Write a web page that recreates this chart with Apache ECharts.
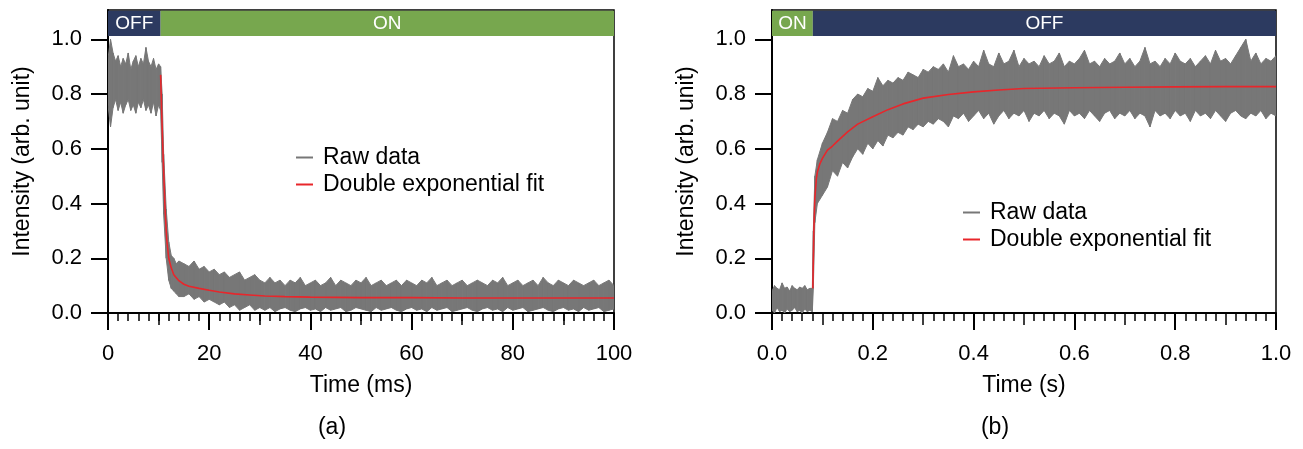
<!DOCTYPE html>
<html>
<head>
<meta charset="utf-8">
<script src="https://cdn.jsdelivr.net/npm/echarts@6/dist/echarts.min.js"></script>
<style>
html,body{margin:0;padding:0;background:#fff;}
#chart{width:1303px;height:449px;}
</style>
</head>
<body>
<div id="chart"></div>
<script>
// ---------------- DATA ----------------
// Panel (a): time in ms
const timeA = [0,0.5,1,1.5,2,2.5,3,3.5,4,4.5,5,5.5,6,6.5,7,7.5,8,8.5,9,9.5,10,
  10.4,10.7,11,11.5,12,12.5,13,13.5,14,
  15,16,17,18,19,20,21,22,23,24,25,26,27,28,29,30,31,32,33,34,35,36,37,38,39,40,
  41,42,43,44,45,46,47,48,49,50,51,52,53,54,55,56,57,58,59,60,61,62,63,64,65,
  66,67,68,69,70,71,72,73,74,75,76,77,78,79,80,81,82,83,84,85,86,87,88,89,90,
  91,92,93,94,95,96,97,98,99,100];
// raw data: upper and lower edge of the noise band
const rawUpperA = [0.93,1.00,0.95,0.92,0.94,0.90,0.93,0.91,0.95,0.89,0.92,0.94,0.90,0.93,0.91,0.97,0.92,0.90,0.93,0.89,0.91,
  0.90,0.80,0.58,0.38,0.26,0.21,0.20,0.18,0.19,
  0.18,0.17,0.19,0.16,0.17,0.15,0.16,0.14,0.15,0.13,
  0.14,0.15,0.12,0.13,0.14,0.12,0.11,0.13,0.11,0.12,
  0.10,0.12,0.11,0.13,0.10,0.11,0.12,0.10,0.11,0.13,
  0.10,0.12,0.11,0.10,0.12,0.11,0.13,0.10,0.11,0.12,
  0.10,0.11,0.12,0.10,0.12,0.11,0.10,0.12,0.11,0.13,
  0.10,0.11,0.12,0.10,0.11,0.12,0.10,0.11,0.12,0.11,
  0.10,0.12,0.11,0.13,0.10,0.11,0.12,0.10,0.11,0.12,
  0.10,0.13,0.11,0.10,0.12,0.11,0.10,0.12,0.11,0.10,
  0.11,0.12,0.10,0.11,0.12,0.10];
const rawLowerA = [0.76,0.68,0.75,0.78,0.74,0.77,0.73,0.76,0.78,0.74,0.76,0.73,0.77,0.75,0.78,0.74,0.76,0.73,0.77,0.72,0.76,
  0.74,0.55,0.36,0.20,0.12,0.09,0.08,0.07,0.06,
  0.06,0.07,0.05,0.06,0.04,0.05,0.04,0.03,0.04,0.02,
  0.03,0.01,0.02,0.03,0.01,0.02,0.01,0.02,0.005,0.015,
  0.02,0.01,0.005,0.015,0.02,0.01,0.015,0.005,0.02,0.01,
  0.015,0.02,0.005,0.01,0.02,0.015,0.01,0.005,0.02,0.01,
  0.015,0.02,0.01,0.005,0.015,0.02,0.01,0.015,0.005,0.02,
  0.01,0.015,0.02,0.005,0.01,0.015,0.02,0.01,0.005,0.015,
  0.02,0.01,0.015,0.005,0.02,0.01,0.015,0.02,0.005,0.01,
  0.015,0.02,0.01,0.005,0.015,0.02,0.01,0.015,0.005,0.02,
  0.01,0.015,0.02,0.005,0.01,0.015];
const fitTimeA = [10.4,10.6,10.8,11,11.3,11.6,12,12.5,13,14,15,16,18,20,22,25,28,31,35,40,50,60,70,80,90,100];
const fitA = [0.87,0.74,0.62,0.52,0.37,0.27,0.20,0.165,0.14,0.118,0.105,0.098,0.09,0.083,0.077,0.07,0.066,0.062,0.06,0.058,0.056,0.056,0.055,0.055,0.055,0.055];
const stateA = [['OFF', 0, 10.4], ['ON', 10.4, 100]];

// Panel (b): time in s
const timeB = [0,0.005,0.01,0.015,0.02,0.025,0.03,0.035,0.04,0.045,0.05,0.055,0.06,0.065,0.07,0.075,0.08,
  0.082,0.085,
  0.09,0.10,0.11,0.12,0.13,0.14,0.15,0.16,0.17,0.18,
  0.19,0.20,0.21,0.22,0.23,0.24,0.25,0.26,0.27,0.28,
  0.29,0.30,0.31,0.32,0.33,0.34,0.35,0.36,0.37,0.38,
  0.39,0.40,0.41,0.42,0.43,0.44,0.45,0.46,0.47,0.48,
  0.49,0.50,0.51,0.52,0.53,0.54,0.55,0.56,0.57,0.58,
  0.59,0.60,0.61,0.62,0.63,0.64,0.65,0.66,0.67,0.68,
  0.69,0.70,0.71,0.72,0.73,0.74,0.75,0.76,0.77,0.78,
  0.79,0.80,0.81,0.82,0.83,0.84,0.85,0.86,0.87,0.88,
  0.89,0.90,0.91,0.92,0.93,0.94,0.95,0.96,0.97,0.98,
  0.99,1.00];
const rawUpperB = [0.08,0.10,0.09,0.085,0.11,0.09,0.095,0.08,0.10,0.09,0.085,0.095,0.09,0.10,0.085,0.09,0.09,
  0.30,0.50,
  0.56,0.62,0.66,0.71,0.70,0.74,0.73,0.78,0.80,0.79,
  0.82,0.81,0.86,0.83,0.85,0.84,0.86,0.85,0.88,0.87,
  0.86,0.89,0.88,0.90,0.89,0.91,0.88,0.94,0.90,0.91,
  0.89,0.92,0.90,0.96,0.91,0.90,0.95,0.91,0.92,0.96,
  0.90,0.93,0.91,0.92,0.90,0.94,0.91,0.92,0.95,0.90,
  0.92,0.91,0.93,0.96,0.91,0.92,0.90,0.93,0.91,0.92,
  0.95,0.91,0.93,0.90,0.92,0.97,0.91,0.92,0.90,0.93,
  0.91,0.95,0.92,0.91,0.93,0.90,0.92,0.94,0.91,0.96,
  0.92,0.93,0.91,0.94,0.97,1.00,0.92,0.95,0.91,0.93,
  0.92,0.94];
const rawLowerB = [0.01,0.0,0.02,0.005,0.01,0.0,0.015,0.005,0.01,0.02,0.005,0.01,0.0,0.015,0.005,0.01,0.005,
  0.09,0.33,
  0.40,0.43,0.46,0.52,0.50,0.55,0.53,0.57,0.60,0.58,
  0.62,0.60,0.63,0.61,0.65,0.64,0.66,0.65,0.68,0.67,
  0.69,0.68,0.70,0.69,0.71,0.70,0.68,0.72,0.71,0.73,
  0.70,0.72,0.74,0.71,0.73,0.69,0.72,0.74,0.71,0.73,
  0.72,0.74,0.70,0.73,0.72,0.74,0.71,0.73,0.72,0.69,
  0.74,0.72,0.73,0.71,0.74,0.72,0.70,0.73,0.74,0.71,
  0.73,0.72,0.74,0.71,0.73,0.72,0.68,0.74,0.72,0.73,
  0.71,0.74,0.72,0.73,0.70,0.74,0.72,0.73,0.71,0.74,
  0.72,0.70,0.73,0.74,0.72,0.71,0.73,0.72,0.74,0.71,
  0.73,0.72];
const fitTimeB = [0.081,0.083,0.085,0.088,0.09,0.095,0.10,0.11,0.12,0.13,0.15,0.17,0.20,0.23,0.26,0.30,0.35,0.40,0.45,0.50,0.60,0.70,0.80,0.90,1.00];
const fitB = [0.09,0.30,0.42,0.49,0.515,0.545,0.565,0.595,0.61,0.628,0.662,0.69,0.717,0.743,0.764,0.785,0.798,0.808,0.815,0.82,0.823,0.825,0.826,0.827,0.827];
const stateB = [['ON', 0, 0.081], ['OFF', 0.081, 1.0]];

const yTicks = [0, 0.2, 0.4, 0.6, 0.8, 1.0];
const midTicksA = [10, 30, 50, 70, 90];
const midTicksB = [0.1, 0.3, 0.5, 0.7, 0.9];
const seriesNames = ['Raw data', 'Double exponential fit'];

// ---------------- STYLE ----------------
const FONT = '"Liberation Sans", Arial, Helvetica, sans-serif';
const GRAY = '#777777';
const RED = '#e8262b';
const STATE_COLOR = { ON: '#77a74e', OFF: '#2c3a60' };
const Y_MAX = 1.107, BANNER_LO = 1.012, BANNER_HI = 1.104;

const grids = [
  { left: 108, right: 689, top: 10, bottom: 136 },
  { left: 772, right: 27, top: 10, bottom: 136 }
];

function pairs(t, v) { return t.map((x, i) => [x, v[i]]); }
function triples(t, lo, hi) { return t.map((x, i) => [x, lo[i], hi[i]]); }

function mainX(gi, max, interval, fmt, name) {
  return {
    type: 'value', gridIndex: gi, min: 0, max: max, interval: interval,
    name: name, nameLocation: 'middle', nameGap: 61,
    nameTextStyle: { fontSize: 23, color: '#000', fontFamily: FONT },
    axisLine: { show: true, lineStyle: { color: '#000', width: 2 } },
    axisTick: { show: true, length: 17, lineStyle: { color: '#000', width: 2 } },
    minorTick: { show: true, splitNumber: 10, length: 8, lineStyle: { color: '#000', width: 1.5 } },
    axisLabel: { fontSize: 22, color: '#000', fontFamily: FONT, margin: 30, formatter: fmt },
    splitLine: { show: false }, minorSplitLine: { show: false }
  };
}
function midX(gi, max, ticks) {
  return {
    type: 'value', gridIndex: gi, min: 0, max: max, position: 'bottom',
    axisLine: { show: false },
    axisTick: { show: true, length: 12, customValues: ticks, lineStyle: { color: '#000', width: 1.5 } },
    axisLabel: { show: false, customValues: ticks },
    splitLine: { show: false }
  };
}
function mainY(gi) {
  return {
    type: 'value', gridIndex: gi, min: 0, max: Y_MAX,
    name: 'Intensity (arb. unit)', nameLocation: 'middle', nameGap: 74,
    nameTextStyle: { fontSize: 23, color: '#000', fontFamily: FONT },
    axisLine: { show: true, lineStyle: { color: '#000', width: 2 } },
    axisTick: { show: true, length: 17, customValues: yTicks, lineStyle: { color: '#000', width: 2 } },
    axisLabel: { fontSize: 22, color: '#000', fontFamily: FONT, margin: 26, customValues: yTicks,
      formatter: v => v.toFixed(1) },
    splitLine: { show: false }
  };
}
function banner(states) {
  return {
    silent: true,
    data: states.map(s => [
      { xAxis: s[1], yAxis: BANNER_LO, itemStyle: { color: STATE_COLOR[s[0]], opacity: 1 },
        label: { show: true, position: 'inside', formatter: s[0], color: '#fff', fontSize: 19, fontFamily: FONT } },
      { xAxis: s[2], yAxis: BANNER_HI }
    ])
  };
}
// Band of the raw trace: each item is [t, lower, upper]; a quad joins item i to item i+1.
function renderBand(params, api) {
  const i = params.dataIndex;
  const n = params.dataInsideLength;
  if (i >= n - 1) return null;
  const t0 = api.value(0, i), l0 = api.value(1, i), u0 = api.value(2, i);
  const t1 = api.value(0, i + 1), l1 = api.value(1, i + 1), u1 = api.value(2, i + 1);
  const pts = [api.coord([t0, l0]), api.coord([t1, l1]), api.coord([t1, u1]), api.coord([t0, u0])];
  return {
    type: 'polygon',
    shape: { points: pts },
    style: { fill: GRAY, stroke: GRAY, lineWidth: 1 }
  };
}
function panelSeries(gi, xi, t, up, lo, ft, fv, states) {
  return [
    { name: seriesNames[0], type: 'custom', xAxisIndex: xi, yAxisIndex: gi,
      data: triples(t, lo, up), encode: { x: 0, y: [1, 2] },
      renderItem: renderBand, itemStyle: { color: GRAY }, clip: true, silent: true, z: 2 },
    { name: seriesNames[1], type: 'line', xAxisIndex: xi, yAxisIndex: gi,
      data: pairs(ft, fv), showSymbol: false, symbol: 'none', color: RED,
      lineStyle: { color: RED, width: 1.6 }, silent: true, z: 3,
      markArea: banner(states) }
  ];
}
function legendAt(left, top) {
  return {
    data: seriesNames, orient: 'vertical', left: left, top: top,
    icon: 'rect', itemWidth: 17, itemHeight: 2, itemGap: 0,
    selectedMode: false,
    textStyle: { fontSize: 23, lineHeight: 27, color: '#000', fontFamily: FONT, padding: [0, 0, 0, 5] }
  };
}

const option = {
  animation: false,
  textStyle: { fontFamily: FONT },
  grid: grids.map(g => Object.assign({ show: true, borderColor: '#000', borderWidth: 1.5, backgroundColor: 'transparent' }, g)),
  xAxis: [
    mainX(0, 100, 20, v => String(v), 'Time (ms)'),
    mainX(1, 1, 0.2, v => v.toFixed(1), 'Time (s)'),
    midX(0, 100, midTicksA),
    midX(1, 1, midTicksB)
  ],
  yAxis: [mainY(0), mainY(1)],
  legend: [legendAt(291, 139), legendAt(958, 194)],
  graphic: [
    { type: 'text', x: 332, y: 428, style: { text: '(a)', fill: '#000', font: '23px ' + FONT, textAlign: 'center', textVerticalAlign: 'middle' } },
    { type: 'text', x: 995, y: 428, style: { text: '(b)', fill: '#000', font: '23px ' + FONT, textAlign: 'center', textVerticalAlign: 'middle' } }
  ],
  series: [].concat(
    panelSeries(0, 0, timeA, rawUpperA, rawLowerA, fitTimeA, fitA, stateA),
    panelSeries(1, 1, timeB, rawUpperB, rawLowerB, fitTimeB, fitB, stateB)
  )
};

const chart = echarts.init(document.getElementById('chart'), null, { renderer: 'canvas' });
chart.setOption(option);
</script>
</body>
</html>
